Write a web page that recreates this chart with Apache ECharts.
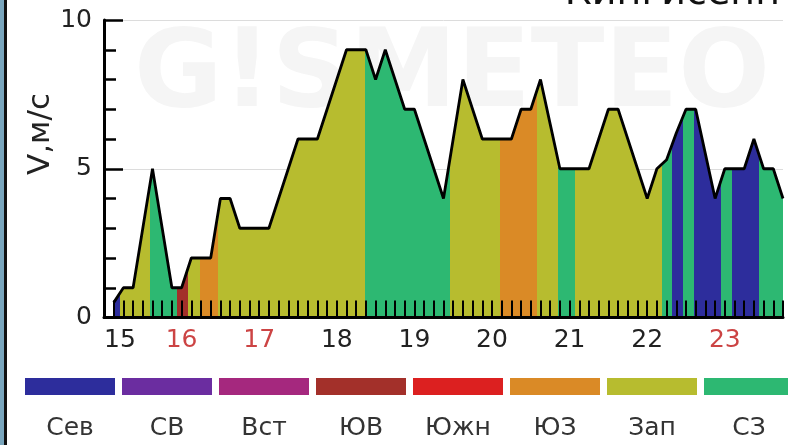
<!DOCTYPE html>
<html>
<head>
<meta charset="utf-8">
<script src="https://cdn.jsdelivr.net/npm/echarts@6/dist/echarts.min.js"></script>
<style>html,body{margin:0;padding:0;background:#fff}#c{width:788px;height:445px}</style>
</head>
<body>
<div id="c"></div>
<script>
// Wind speed, m/s, every 3 hours (sample index 0..69)
const speeds = [0.5,1,1,3,5,3,1,1,2,2, 2,4,4,3,3,3,3,4,5,6, 6,6,7,8,9,9,9,8,9,8, 7,7,6,5,4,6,8,7,6,6, 6,6,7,7,8,6.5,5,5,5,5, 6,7,7,6,5,4,5,5.3,6.2,7, 7,5.5,4,5,5,5,6,5,5,4];
// Direction names and colours
const dirNames = ['Сев','СВ','Вст','ЮВ','Южн','ЮЗ','Зап','СЗ'];
const dirColors = ['#2d2d9c','#6b2da0','#a5287e','#a3302a','#dc2020','#da8a26','#b7bc2f','#2db872'];
// Direction segments: boundaries (in sample index) and direction index of each segment
const segBounds = [-1,0.65,3.74,6.53,7.66,8.9,10.75,25.9,34.67,39.8,43.6,45.8,47.56,56.5,57.6,58.7,59.8,62.6,63.7,66.5,70];
const segDirs   = [0,6,7,3,6,5,6,7,6,5,6,7,6,7,0,7,0,7,0,7];
// Day labels and where they sit on the index axis
const dayLabels = ['15','16','17','18','19','20','21','22','23'];
const dayIdx    = [-1,7,15,23,31,39,47,55,63];
const dayRed    = [false,true,true,false,false,false,false,false,true];

const steps = speeds.map((_, k) => k);
const x0 = steps[0], x1 = steps[steps.length - 1];
const clamp = v => Math.max(0, Math.min(1, v));
const stops = [];
segDirs.forEach((d, k) => {
  stops.push({offset: clamp((segBounds[k] - x0) / (x1 - x0)), color: dirColors[d]});
  stops.push({offset: clamp((segBounds[k + 1] - x0) / (x1 - x0)), color: dirColors[d]});
});

const chart = echarts.init(document.getElementById('c'), null, {renderer:'canvas'});
const font = 'DejaVu Sans';

const graphics = [
  {type:'rect', shape:{x:0,y:0,width:4,height:445}, style:{fill:'#7aa6bd'}, z:10},
  {type:'rect', shape:{x:4,y:0,width:3,height:445}, style:{fill:'#111'}, z:10},
  {type:'text', x:452, y:78, z:-10, style:{text:'G!SMETEO', fontFamily:font, fontWeight:'bold', fontSize:108, fill:'#f5f5f5', align:'center', verticalAlign:'middle'}},
  {type:'text', x:41, y:134, rotation:Math.PI/2, style:{text:'V,м/с', fontFamily:font, fontSize:31, fill:'#222', align:'center', verticalAlign:'middle'}},
  {type:'text', x:780, y:13, style:{text:'Кингисепп', fontFamily:font, fontSize:38, fill:'#111', align:'right', verticalAlign:'bottom'}}
];
dirNames.forEach((n, k) => {
  graphics.push({type:'rect', shape:{x:25+97*k, y:378, width:90, height:17}, style:{fill:dirColors[k]}});
  graphics.push({type:'text', x:70+97*k, y:428, style:{text:n, fontFamily:font, fontSize:25, fill:'#333', align:'center', verticalAlign:'middle'}});
});

chart.setOption({
  animation:false,
  backgroundColor:'#fff',
  grid:{left:104, right:5, top:20, bottom:127.5, containLabel:false},
  xAxis:{
    type:'value', min:-1, max:69, interval:1, z:5,
    axisLine:{onZero:false, lineStyle:{color:'#000', width:3}},
    axisTick:{inside:true, length:17, lineStyle:{color:'#000', width:2}},
    splitLine:{show:false},
    axisLabel:{
      margin:10, fontFamily:font, fontSize:25, alignMinLabel:'left', showMinLabel:true,
      formatter:v => { const j = dayIdx.indexOf(v); return j >= 0 ? dayLabels[j] : ''; },
      color:v => { const j = dayIdx.indexOf(Number(v)); return (j >= 0 && dayRed[j]) ? '#cc4444' : '#222'; }
    }
  },
  yAxis:{
    type:'value', min:0, max:10, interval:5,
    axisLine:{show:true, onZero:false, lineStyle:{color:'#000', width:3}},
    axisTick:{show:true, inside:true, length:19, lineStyle:{color:'#000', width:2.5}},
    minorTick:{show:true, splitNumber:5, length:12, lineStyle:{color:'#000', width:2.5}},
    splitLine:{show:true, lineStyle:{color:'#dcdcdc', width:1}},
    axisLabel:{margin:12, fontFamily:font, fontSize:25, color:'#222'}
  },
  series:[{
    type:'line',
    data: steps.map((s, k) => [s, speeds[k]]),
    showSymbol:false, symbol:'none',
    lineStyle:{color:'#000', width:2.8},
    areaStyle:{opacity:1, color: new echarts.graphic.LinearGradient(0, 0, 1, 0, stops)},
    z:2
  }],
  graphic: graphics
});
</script>
</body>
</html>
